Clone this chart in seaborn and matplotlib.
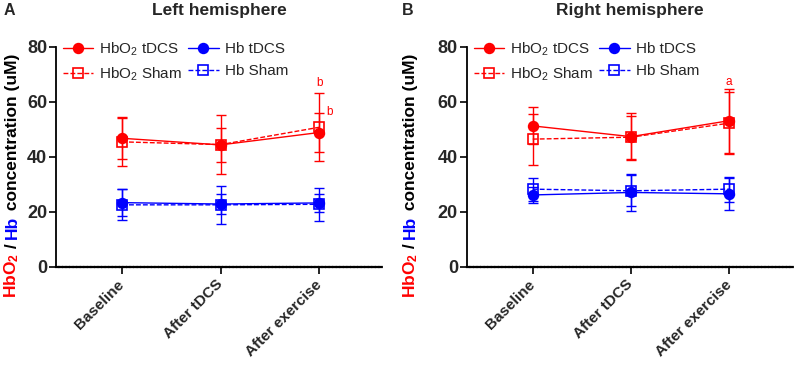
"""Prism-style two panel plot of HbO2 / Hb concentrations, tDCS vs sham."""

import numpy as np
import pandas as pd
import matplotlib.pyplot as plt
from matplotlib.lines import Line2D
import seaborn as sns

# ---- data ----
timepoints = ["Baseline", "After tDCS", "After exercise"]

left_hbo2_tdcs = [46.8, 44.4, 48.9]
left_hbo2_tdcs_sd = [7.4, 6.2, 7.2]
left_hbo2_sham = [45.5, 44.5, 50.8]
left_hbo2_sham_sd = [8.9, 10.8, 12.3]
left_hb_tdcs = [23.4, 22.9, 23.3]
left_hb_tdcs_sd = [5.0, 3.7, 3.2]
left_hb_sham = [22.6, 22.6, 22.8]
left_hb_sham_sd = [5.6, 7.0, 6.0]

right_hbo2_tdcs = [51.3, 47.4, 53.2]
right_hbo2_tdcs_sd = [6.7, 8.5, 11.6]
right_hbo2_sham = [46.5, 47.2, 52.3]
right_hbo2_sham_sd = [9.3, 7.8, 11.3]
right_hb_tdcs = [26.2, 27.1, 26.6]
right_hb_tdcs_sd = [3.0, 6.7, 5.8]
right_hb_sham = [28.3, 27.7, 28.3]
right_hb_sham_sd = [4.2, 5.7, 4.5]

# significance letters: (x index, x offset, y, text)
left_marks = [(2, 0.0, 66.8, "b"), (2, 0.11, 56.2, "b")]
right_marks = [(2, 0.0, 67.4, "a")]

RED = "#ff0000"
BLUE = "#0000ff"

sns.set_style("ticks")
plt.rcParams["font.family"] = ["Liberation Sans", "DejaVu Sans"]
plt.rcParams["mathtext.fontset"] = "custom"
plt.rcParams["mathtext.rm"] = "Liberation Sans"
plt.rcParams["mathtext.bf"] = "Liberation Sans:bold"
plt.rcParams["mathtext.it"] = "Liberation Sans:italic"


def draw_panel(ax, series, marks):
    x = np.arange(len(timepoints))
    handles = []
    for label, mean, sd, color, filled in series:
        style = dict(
            color=color,
            marker="o" if filled else "s",
            markersize=7 if filled else 7.5,
            markerfacecolor=color if filled else "none",
            markeredgecolor=color, markeredgewidth=1.2,
            linestyle="-" if filled else (0, (3.5, 1.5)),
            linewidth=1.0,
        )
        df = pd.DataFrame({"x": x, "y": mean})
        sns.lineplot(data=df, x="x", y="y", ax=ax, legend=False, zorder=3, **style)
        ax.errorbar(x, mean, yerr=sd, fmt="none", ecolor=color,
                    elinewidth=1.0, capsize=3.8, capthick=1.0, zorder=2)
        handles.append(Line2D([], [], label=label, **style))

    for xi, dx, yv, txt in marks:
        ax.text(xi + dx, yv, txt, color=RED, fontsize=8.5, ha="center", va="center")

    ax.set_xlim(-0.67, 2.65)
    ax.set_ylim(0, 80)
    ax.set_yticks([0, 20, 40, 60, 80])
    ax.set_xticks(x)
    ax.set_xticklabels(timepoints, rotation=45, ha="right", va="center",
                       rotation_mode="anchor", fontweight="bold", fontsize=11)
    for lab in ax.get_yticklabels():
        lab.set_fontweight("bold")
        lab.set_fontsize(13)
    ax.set_xlabel("")
    ax.set_ylabel("")
    ax.tick_params(axis="both", length=5, width=1.2, color="black", pad=1.5)
    ax.tick_params(axis="x", pad=6)
    sns.despine(ax=ax)
    ax.spines["left"].set_linewidth(1.3)
    ax.spines["bottom"].set_linewidth(1.6)
    ax.spines["bottom"].set_linestyle((0, (1.0, 0.6)))
    ax.spines["left"].set_color("black")
    ax.spines["bottom"].set_color("black")

    ax.legend(
        handles=handles, ncol=2, loc="upper left",
        bbox_to_anchor=(0.02, 1.03), frameon=False, fontsize=11,
        borderpad=0, borderaxespad=0, handlelength=2.0, handletextpad=0.4,
        columnspacing=0.4, labelspacing=0.5,
    )


def color_ylabel(fig, x, yc, parts, size):
    """Stack coloured, rotated text pieces to form one y label."""
    renderer = fig.canvas.get_renderer()
    texts, lengths = [], []
    for s, c in parts:
        t = fig.text(x, 0, s, color=c, rotation=90, fontsize=size,
                     fontweight="bold", ha="left", va="baseline",
                     rotation_mode="anchor")
        texts.append(t)
        lengths.append(t.get_window_extent(renderer).height)
    fig_h = fig.get_size_inches()[1] * fig.dpi
    y = yc * fig_h - sum(lengths) / 2
    for t, ln in zip(texts, lengths):
        t.set_y(y / fig_h)
        y += ln


fig = plt.figure(figsize=(7.96, 3.67), dpi=100)
ax1 = fig.add_axes([0.0704, 0.2725, 0.411, 0.5995])
ax2 = fig.add_axes([0.5867, 0.2725, 0.4095, 0.5995])

draw_panel(ax1, [
    ("HbO$_2$ tDCS", left_hbo2_tdcs, left_hbo2_tdcs_sd, RED, True),
    ("HbO$_2$ Sham", left_hbo2_sham, left_hbo2_sham_sd, RED, False),
    ("Hb tDCS", left_hb_tdcs, left_hb_tdcs_sd, BLUE, True),
    ("Hb Sham", left_hb_sham, left_hb_sham_sd, BLUE, False),
], left_marks)
draw_panel(ax2, [
    ("HbO$_2$ tDCS", right_hbo2_tdcs, right_hbo2_tdcs_sd, RED, True),
    ("HbO$_2$ Sham", right_hbo2_sham, right_hbo2_sham_sd, RED, False),
    ("Hb tDCS", right_hb_tdcs, right_hb_tdcs_sd, BLUE, True),
    ("Hb Sham", right_hb_sham, right_hb_sham_sd, BLUE, False),
], right_marks)

# titles and panel letters
fig.text(0.2757, 0.972, "Left hemisphere", ha="center", va="center",
         fontsize=12.5, fontweight="bold")
fig.text(0.7915, 0.972, "Right hemisphere", ha="center", va="center",
         fontsize=12.5, fontweight="bold")
fig.text(0.004, 0.972, "A", ha="left", va="center", fontsize=11.5, fontweight="bold")
fig.text(0.505, 0.972, "B", ha="left", va="center", fontsize=11.5, fontweight="bold")

label_parts = [("HbO$_\\mathbf{2}$", RED), (" / ", "black"), ("Hb", BLUE),
               (" concentration (uM)", "black")]
color_ylabel(fig, 0.021, 0.52, label_parts, 12.5)
color_ylabel(fig, 0.5215, 0.52, label_parts, 12.5)

plt.savefig("out.png", dpi=100)
